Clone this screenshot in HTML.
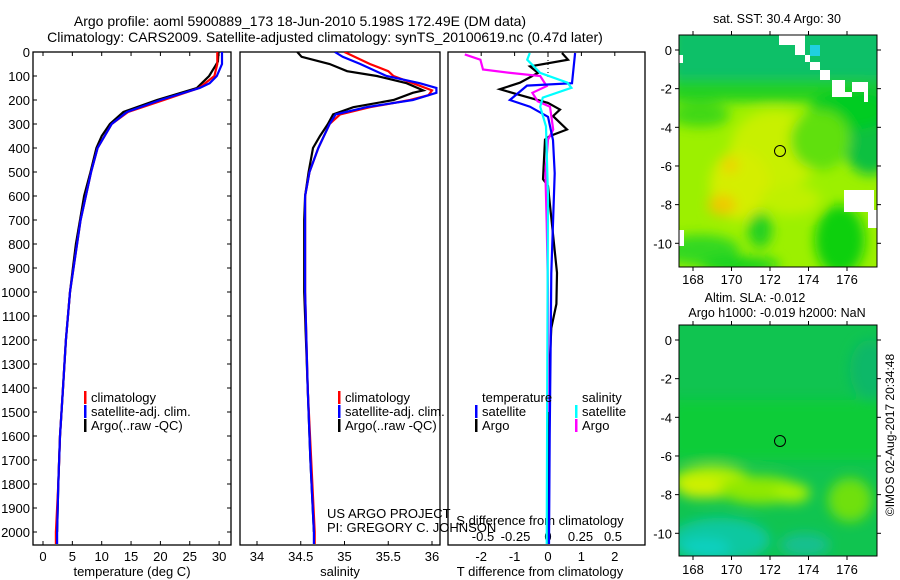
<!DOCTYPE html>
<html><head><meta charset="utf-8">
<style>
body{margin:0;background:#fff;}
svg{display:block;font-family:"Liberation Sans",sans-serif;}
text{fill:#000;}
</style></head>
<body>
<svg id="chart" width="900" height="580" viewBox="0 0 900 580" xmlns="http://www.w3.org/2000/svg">
<defs>
<filter id="blur1" x="-20%" y="-20%" width="140%" height="140%"><feGaussianBlur stdDeviation="6"/></filter>
<filter id="blur2" x="-20%" y="-20%" width="140%" height="140%"><feGaussianBlur stdDeviation="6"/></filter>
<clipPath id="m1clip"><rect x="679" y="35" width="198" height="232"/></clipPath>
<clipPath id="m2clip"><rect x="679" y="325" width="198" height="231"/></clipPath>
<clipPath id="p1clip"><rect x="33" y="52" width="198" height="493"/></clipPath>
<clipPath id="p2clip"><rect x="240" y="52" width="200" height="493"/></clipPath>
<clipPath id="p3clip"><rect x="448" y="52" width="197" height="493"/></clipPath>
</defs>
<text x="300" y="26" font-size="14" text-anchor="middle">Argo profile: aoml 5900889_173 18-Jun-2010 5.198S 172.49E (DM data)</text>
<text x="325" y="42" font-size="14" text-anchor="middle">Climatology: CARS2009. Satellite-adjusted climatology: synTS_20100619.nc (0.47d later)</text>

<g id="panels"></g>

<!-- Map 1 -->
<g>
<g clip-path="url(#m1clip)">
<rect x="679" y="35" width="198" height="232" fill="#9cf000"/>
<g filter="url(#blur1)">
<rect x="670" y="25" width="220" height="70" fill="#10c068"/>
<rect x="670" y="80" width="220" height="22" fill="#20d020"/>
<ellipse cx="700" cy="115" rx="30" ry="12" fill="#40d818"/>
<ellipse cx="870" cy="130" rx="30" ry="45" fill="#10c040"/>
<ellipse cx="850" cy="110" rx="40" ry="20" fill="#00cc20"/>
<ellipse cx="775" cy="150" rx="45" ry="40" fill="#c8f000"/>
<ellipse cx="740" cy="185" rx="30" ry="35" fill="#d4ee00"/>
<ellipse cx="722" cy="205" rx="14" ry="10" fill="#f0c800"/>
<ellipse cx="730" cy="165" rx="8" ry="8" fill="#f0d000"/>
<ellipse cx="790" cy="200" rx="30" ry="15" fill="#c0f000"/>
<ellipse cx="700" cy="250" rx="40" ry="15" fill="#30d820"/>
<ellipse cx="840" cy="240" rx="25" ry="35" fill="#10d010"/>
<ellipse cx="760" cy="230" rx="12" ry="18" fill="#20d020"/>
<ellipse cx="740" cy="265" rx="40" ry="8" fill="#10d020"/>
<ellipse cx="820" cy="140" rx="30" ry="30" fill="#60e010"/>
</g>
<polygon points="779,35 805,35 805,62 820,62 820,80 832,80 832,97 852,97 852,82 868,82 868,102 864,102 864,92 845,92 845,80 830,80 830,70 810,70 810,55 795,55 795,45 779,45" fill="#fff"/>
<rect x="810" y="45" width="10" height="11" fill="#20d0e0"/>
<rect x="844" y="190" width="30" height="22" fill="#fff"/>
<rect x="868" y="210" width="9" height="18" fill="#fff"/>
<rect x="679" y="55" width="4" height="8" fill="#fff"/>
<rect x="679" y="230" width="5" height="16" fill="#fff"/>
</g>
<rect x="679" y="35" width="198" height="232" fill="none" stroke="#000" stroke-width="1"/>
<circle cx="780" cy="151" r="5.5" fill="none" stroke="#000" stroke-width="1"/>
<text x="777" y="23" font-size="12.5" text-anchor="middle">sat. SST: 30.4  Argo: 30</text>
<g id="m1ticks"></g>
</g>

<!-- Map 2 -->
<g>
<g clip-path="url(#m2clip)">
<rect x="679" y="325" width="198" height="231" fill="#10c450"/>
<g filter="url(#blur2)">
<rect x="670" y="400" width="220" height="60" fill="#08cc38"/>
<ellipse cx="712" cy="482" rx="40" ry="16" fill="#b8f000"/>
<ellipse cx="700" cy="488" rx="22" ry="10" fill="#d0f000"/>
<ellipse cx="760" cy="490" rx="40" ry="14" fill="#90e800"/>
<ellipse cx="792" cy="493" rx="18" ry="10" fill="#a8f000"/>
<ellipse cx="850" cy="500" rx="22" ry="22" fill="#70e010"/>
<ellipse cx="720" cy="540" rx="50" ry="22" fill="#10c8a0"/>
<ellipse cx="705" cy="548" rx="25" ry="10" fill="#10d0c0"/>
<ellipse cx="805" cy="545" rx="25" ry="12" fill="#18c090"/>
<ellipse cx="870" cy="370" rx="20" ry="30" fill="#10b868"/>
</g>
</g>
<rect x="679" y="325" width="198" height="231" fill="none" stroke="#000" stroke-width="1"/>
<circle cx="780" cy="441" r="5.5" fill="none" stroke="#000" stroke-width="1"/>
<text x="755" y="302" font-size="12.5" text-anchor="middle">Altim. SLA: -0.012</text>
<text x="777" y="317" font-size="12.5" text-anchor="middle">Argo h1000: -0.019 h2000: NaN</text>
<g id="m2ticks"></g>
<text transform="translate(894,435) rotate(-90)" font-size="12" text-anchor="middle">©IMOS 02-Aug-2017 20:34:48</text>
</g>
</svg>
<script>
// ---- data ----
const depthTicks=[0,100,200,300,400,500,600,700,800,900,1000,1100,1200,1300,1400,1500,1600,1700,1800,1900,2000];
const tempTicks=[0,5,10,15,20,25,30];
const salTicks=[34,34.5,35,35.5,36];
const tdiffTicks=[-2,-1,0,1,2];
const sdiffTicks=[-0.5,-0.25,0,0.25,0.5];
const sdiffTickLabels=["-0.5","-0.25","0","0.25","0.5"];

const tArgoDepth=[0,40,60,100,150,200,250,300,350,400,500,600,700,800,900,1000,1200,1400,1600,1800,2000];
const tArgo=[29.9,29.8,29.3,28.3,26.2,19.4,13.7,11.4,10.0,9.1,8.1,7.0,6.3,5.6,5.1,4.6,3.9,3.4,2.9,2.6,2.4];
const tClimDepth=[0,50,100,150,200,250,300,400,500,700,1000,1200,1400,1600,1800,1950,2000,2050];
const tClim=[29.7,29.7,29.2,26.6,20.6,14.5,11.7,9.3,8.2,6.4,4.6,3.9,3.4,2.9,2.6,2.3,2.2,2.2];
const tSatDepth=[0,50,100,130,150,200,250,300,400,500,700,1000,1200,1400,1600,1800,2000,2050];
const tSat=[30.5,30.5,29.6,28.4,26.7,20.0,14.3,11.7,9.3,8.2,6.4,4.6,3.9,3.4,2.9,2.6,2.4,2.4];

const sArgoDepth=[0,20,50,80,100,130,160,170,200,230,260,300,350,400,500,600,700,1000,1400,1700,2000];
const sArgo=[34.46,34.51,34.83,35.03,35.37,35.71,35.90,35.78,35.56,35.10,34.87,34.81,34.72,34.64,34.59,34.55,34.54,34.54,34.58,34.61,34.65];
const sClimDepth=[0,50,80,100,130,160,180,200,230,260,300,400,500,600,1000,1400,1700,2000,2050];
const sClim=[35.0,35.29,35.5,35.56,35.78,36.0,35.96,35.75,35.29,34.95,34.83,34.70,34.60,34.55,34.55,34.58,34.62,34.66,34.66];
const sSatDepth=[0,20,50,100,130,150,170,200,230,260,300,400,500,600,1000,1400,1700,2000,2050];
const sSat=[34.89,34.98,35.18,35.48,35.86,36.05,36.05,35.78,35.25,34.90,34.83,34.70,34.60,34.55,34.55,34.58,34.61,34.65,34.65];

const dTSatDepth=[4,130,140,200,228,270,367,505,922,1200,1600,2050];
const dTSat=[0.81,0.72,-0.63,-1.14,-0.54,0.0,0.15,0.20,0.10,0.08,0.05,0.03];
const dTArgoDepth=[4,32,60,87,128,155,176,212,240,267,323,350,365,530,558,920,1050,1150,1300,1600,2050];
const dTArgo=[0.42,0.60,-0.54,-0.30,-0.84,-1.44,-0.93,0.0,0.36,0.15,0.57,0.06,-0.09,-0.15,0.0,0.27,0.25,0.1,0.05,0.03,0.0];
const dSSatDepth=[4,32,87,128,149,190,228,310,600,1200,2050];
const dSSat=[-0.14,-0.16,-0.06,0.15,0.18,-0.04,-0.06,-0.015,0.0,-0.005,-0.01];
const dSArgoDepth=[10,32,73,87,100,142,170,205,228,323,365,505,713,1000,1500];
const dSArgo=[-0.64,-0.52,-0.50,-0.29,-0.06,-0.01,-0.12,-0.08,0.015,0.04,0.0,-0.02,-0.01,0.0,0.0];

const mapLatTicks=[0,-2,-4,-6,-8,-10];
const mapLonTicks=[168,170,172,174,176];

// ---- scales ----
const NS="http://www.w3.org/2000/svg";
const yD=d=>52+d*0.24;
const xT=t=>43+t*5.87;
const xS=s=>257+(s-34)*87.5;
const xDT=t=>548+t*33.4;
const xDS=s=>548+s*130;
const root=document.getElementById('panels');
function mk(tag,attrs,parent){const e=document.createElementNS(NS,tag);for(const k in attrs)e.setAttribute(k,attrs[k]);(parent||root).appendChild(e);return e;}
function txt(x,y,s,size,anchor,parent){const e=mk('text',{x:x,y:y,'font-size':size,'text-anchor':anchor},parent);e.textContent=s;return e;}
function line(xs,ds,fx,color,w,clip,name){
  let d='';
  for(let i=0;i<xs.length;i++){d+=(i?'L':'M')+fx(xs[i]).toFixed(1)+','+yD(ds[i]).toFixed(1);}
  const p=mk('path',{d:d,fill:'none',stroke:color,'stroke-width':w,'clip-path':'url(#'+clip+')'});
  
  
}
function frame(x0,x1,name){
  const r=mk('rect',{x:x0,y:52,width:x1-x0,height:493,fill:'none',stroke:'#000','stroke-width':1.3});
  
  
}
depthTicks.forEach(d=>{
  const t=txt(30,yD(d)+5,String(d),13,'end');
  
  
  mk('line',{x1:33,x2:37,y1:yD(d),y2:yD(d),stroke:'#000'});
  mk('line',{x1:227,x2:231,y1:yD(d),y2:yD(d),stroke:'#000'});
});
frame(33,231,'temperature-panel');
tempTicks.forEach(t=>{
  const l=txt(xT(t),561,String(t),13,'middle');
  
  
  mk('line',{x1:xT(t),x2:xT(t),y1:52,y2:56,stroke:'#000'});
  mk('line',{x1:xT(t),x2:xT(t),y1:541,y2:545,stroke:'#000'});
});
let at=txt(132,576,'temperature (deg C)',13,'middle');


line(tArgo,tArgoDepth,xT,'#000',2.2,'p1clip','temperature-argo-line');
line(tClim,tClimDepth,xT,'#f00',2.2,'p1clip','temperature-climatology-line');
line(tSat,tSatDepth,xT,'#00f',2.2,'p1clip','temperature-satellite-line');
frame(240,440,'salinity-panel');
salTicks.forEach(s=>{
  const l=txt(xS(s),561,String(s),13,'middle');
  
  
  mk('line',{x1:xS(s),x2:xS(s),y1:541,y2:545,stroke:'#000'});
});
at=txt(340,576,'salinity',13,'middle');


line(sArgo,sArgoDepth,xS,'#000',2.2,'p2clip','salinity-argo-line');
line(sClim,sClimDepth,xS,'#f00',2.2,'p2clip','salinity-climatology-line');
line(sSat,sSatDepth,xS,'#00f',2.2,'p2clip','salinity-satellite-line');
frame(448,645,'difference-panel');
tdiffTicks.forEach(t=>{
  const l=txt(xDT(t),561,String(t),13,'middle');
  
  
  mk('line',{x1:xDT(t),x2:xDT(t),y1:52,y2:56,stroke:'#000'});
});
sdiffTicks.forEach((s,i)=>{
  const l=txt(xDS(s),541,sdiffTickLabels[i],13,'middle');
  
  
});
mk('line',{x1:548,x2:548,y1:52,y2:80,stroke:'#000','stroke-dasharray':'1,3'});
at=txt(540,576,'T difference from climatology',13,'middle');


at=txt(540,525,'S difference from climatology',13,'middle');


line(dTArgo,dTArgoDepth,xDT,'#000',2.2,'p3clip','tdiff-argo-line');
line(dSArgo,dSArgoDepth,xDS,'#f0f',2.2,'p3clip','sdiff-argo-line');
line(dTSat,dTSatDepth,xDT,'#00f',2.2,'p3clip','tdiff-satellite-line');
line(dSSat,dSSatDepth,xDS,'#0ff',2.2,'p3clip','sdiff-satellite-line');
function legendEntry(x,y,color,label,name){
  const g=mk('g',{});
  
  
  mk('rect',{x:x,y:y-11,width:2.5,height:13,fill:color},g);
  txt(x+7,y,label,13,'start',g);
}
[[84,'temperature'],[338,'salinity']].forEach(([x,p])=>{
  legendEntry(x,402,'#f00','climatology',p+'-legend-climatology');
  legendEntry(x,416,'#00f','satellite-adj. clim.',p+'-legend-satellite');
  legendEntry(x,430,'#000','Argo(..raw -QC)',p+'-legend-argo');
});
at=txt(482,402,'temperature',13,'start');


at=txt(582,402,'salinity',13,'start');


legendEntry(475,416,'#00f','satellite','legend-tdiff-satellite');
legendEntry(475,430,'#000','Argo','legend-tdiff-argo');
legendEntry(575,416,'#0ff','satellite','legend-sdiff-satellite');
legendEntry(575,430,'#f0f','Argo','legend-sdiff-argo');
at=txt(327,518,'US ARGO PROJECT',13,'start');


at=txt(327,532,'PI: GREGORY C. JOHNSON',13,'start');


function mapTicks(gid,lat0y,bottom,top,lonLabelY){
  const g=document.getElementById(gid);
  mapLatTicks.forEach(la=>{
    const y=lat0y-la*19.33;
    const l=txt(672,y+5,String(la),13,'end',g);
    
    
    mk('line',{x1:675,x2:679,y1:y,y2:y,stroke:'#000'},g);
    mk('line',{x1:877,x2:881,y1:y,y2:y,stroke:'#000'},g);
  });
  mapLonTicks.forEach(lo=>{
    const x=693+(lo-168)*19.25;
    const l=txt(x,lonLabelY,String(lo),13,'middle',g);
    
    
    mk('line',{x1:x,x2:x,y1:bottom,y2:bottom+4,stroke:'#000'},g);
    mk('line',{x1:x,x2:x,y1:top-4,y2:top,stroke:'#000'},g);
  });
}
mapTicks('m1ticks',50,267,35,284);
mapTicks('m2ticks',340,556,325,574);
</script>
</body></html>
